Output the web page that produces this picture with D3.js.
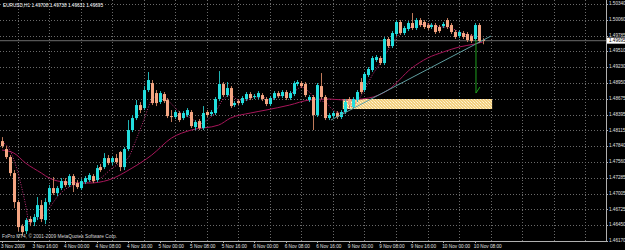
<!DOCTYPE html>
<html><head><meta charset="utf-8">
<script src="https://cdn.jsdelivr.net/npm/d3@7/dist/d3.min.js"></script>
<style>html,body{margin:0;padding:0;background:#000;overflow:hidden}svg{display:block}</style>
</head><body>
<svg id="c" width="625" height="250"></svg>
<script>
const symbolTitle = "EURUSD,H1";
const lastBar = ["1.49708","1.49738","1.49631","1.49695"];
const copyright = "FxPro MT4, \u00A9 2001-2009 MetaQuotes Software Corp.";
const timeLabels = ["3 Nov 2009","3 Nov 16:00","4 Nov 00:00","4 Nov 08:00","4 Nov 16:00","5 Nov 00:00","5 Nov 08:00","5 Nov 16:00","6 Nov 00:00","6 Nov 08:00","6 Nov 16:00","9 Nov 00:00","9 Nov 08:00","9 Nov 16:00","10 Nov 00:00","10 Nov 08:00"];
const priceTicks = ["1.50340","1.50060","1.49785","1.49510","1.49230","1.48950","1.48675","1.48395","1.48115","1.47840","1.47560","1.47285","1.47005","1.46725","1.46450","1.46170"];
const currentPrice = 1.49695;

const open = [1.47928,1.47788,1.47647,1.47365,1.46855,1.46432,1.46344,1.46556,1.46503,1.46591,
1.46802,1.46538,1.46855,1.47101,1.47013,1.47101,1.47224,1.47154,1.47312,1.47189,
1.47101,1.47207,1.47242,1.47312,1.47242,1.47471,1.47471,1.47629,1.47559,1.47629,
1.47735,1.47471,1.47788,1.48122,1.48333,1.48562,1.48509,1.48826,1.48949,1.48773,
1.48615,1.48756,1.48650,1.48368,1.48351,1.48421,1.48333,1.48386,1.48439,1.48175,
1.48280,1.48157,1.48439,1.48404,1.48421,1.48668,1.48932,1.48738,1.48861,1.48562,
1.48632,1.48597,1.48668,1.48756,1.48703,1.48703,1.48738,1.48668,1.48580,1.48685,
1.48773,1.48720,1.48791,1.48685,1.48756,1.48932,1.48949,1.48932,1.48650,1.48703,
1.48386,1.48896,1.48703,1.48333,1.48368,1.48421,1.48351,1.48439,1.48668,1.48527,
1.48650,1.48967,1.48826,1.49090,1.49178,1.49354,1.49389,1.49301,1.49724,1.49600,
1.49812,1.50023,1.49829,1.49900,1.50005,1.49917,1.50058,1.50023,1.49970,1.49935,
1.49970,1.49935,1.49952,1.50058,1.49970,1.49847,1.49776,1.49829,1.49812,1.49776,
1.49724,1.49970,1.49708];
const high = [1.47998,1.47840,1.47682,1.47418,1.46890,1.46468,1.46573,1.46608,1.46644,1.46943,
1.46890,1.46925,1.47154,1.47295,1.47136,1.47277,1.47277,1.47348,1.47348,1.47242,
1.47260,1.47312,1.47365,1.47348,1.47506,1.47524,1.47717,1.47682,1.47664,1.47700,
1.47752,1.47823,1.48298,1.48386,1.48650,1.48615,1.48896,1.49143,1.49002,1.48826,
1.48808,1.48791,1.48685,1.48474,1.48474,1.48456,1.48456,1.48509,1.48474,1.48298,
1.48316,1.48544,1.48474,1.48474,1.48703,1.49160,1.48967,1.48967,1.48896,1.48632,
1.48668,1.48720,1.48791,1.48791,1.48756,1.48808,1.48773,1.48703,1.48720,1.48808,
1.48808,1.48826,1.48826,1.48808,1.48984,1.49002,1.48984,1.48967,1.48738,1.48738,
1.48949,1.49125,1.48738,1.48421,1.48456,1.48456,1.48474,1.48668,1.48703,1.48703,
1.48826,1.49037,1.49143,1.49231,1.49424,1.49442,1.49424,1.49759,1.49759,1.49864,
1.50058,1.50058,1.49952,1.50040,1.50181,1.50093,1.50093,1.50058,1.50005,1.50005,
1.50005,1.49970,1.50023,1.50093,1.50005,1.49882,1.49882,1.49864,1.49847,1.49812,
1.50005,1.50005,1.49738];
const low = [1.47805,1.47612,1.47312,1.46749,1.46344,1.46256,1.46292,1.46432,1.46432,1.46538,
1.46503,1.46468,1.46820,1.46978,1.46960,1.47066,1.47119,1.47119,1.47031,1.47084,
1.47066,1.47172,1.47207,1.47189,1.47207,1.47383,1.47436,1.47506,1.47506,1.47524,
1.47400,1.47418,1.47752,1.48087,1.48298,1.48421,1.48474,1.48791,1.48562,1.48544,
1.48580,1.48597,1.48333,1.48263,1.48316,1.48263,1.48298,1.48351,1.48157,1.48122,
1.48122,1.48122,1.48351,1.48368,1.48386,1.48632,1.48703,1.48703,1.48509,1.48527,
1.48562,1.48562,1.48632,1.48650,1.48668,1.48668,1.48632,1.48544,1.48544,1.48650,
1.48685,1.48685,1.48650,1.48650,1.48720,1.48896,1.48861,1.48703,1.48615,1.48122,
1.48351,1.48668,1.48298,1.48298,1.48333,1.48316,1.48316,1.48404,1.48527,1.48492,
1.48615,1.48756,1.48791,1.49055,1.49143,1.49319,1.49266,1.49266,1.49565,1.49565,
1.49776,1.49794,1.49794,1.49864,1.49882,1.49882,1.49935,1.49900,1.49882,1.49900,
1.49812,1.49829,1.49917,1.49900,1.49812,1.49724,1.49741,1.49724,1.49671,1.49653,
1.49688,1.49653,1.49631];
const close = [1.47840,1.47647,1.47365,1.46855,1.46415,1.46327,1.46538,1.46503,1.46591,1.46802,
1.46556,1.46855,1.47101,1.47013,1.47101,1.47224,1.47154,1.47312,1.47154,1.47119,
1.47224,1.47277,1.47330,1.47224,1.47453,1.47418,1.47629,1.47541,1.47629,1.47559,
1.47471,1.47788,1.48122,1.48333,1.48562,1.48474,1.48826,1.49002,1.48597,1.48597,
1.48773,1.48632,1.48368,1.48351,1.48439,1.48298,1.48421,1.48474,1.48192,1.48263,
1.48157,1.48421,1.48386,1.48439,1.48668,1.48932,1.48738,1.48861,1.48544,1.48597,
1.48597,1.48685,1.48756,1.48685,1.48720,1.48773,1.48668,1.48580,1.48685,1.48773,
1.48720,1.48791,1.48685,1.48773,1.48949,1.48967,1.48896,1.48738,1.48703,1.48386,
1.48914,1.48703,1.48333,1.48386,1.48421,1.48351,1.48439,1.48615,1.48562,1.48668,
1.48791,1.48791,1.49108,1.49196,1.49389,1.49407,1.49301,1.49724,1.49600,1.49829,
1.50023,1.49829,1.49917,1.50005,1.49917,1.50058,1.49970,1.49935,1.49917,1.49970,
1.49847,1.49864,1.49988,1.49935,1.49847,1.49759,1.49847,1.49759,1.49706,1.49688,
1.49970,1.49688,1.49695];

const slowMaIdx = [0,3,6,10,12,16,22,27,33,38,43,48,55,58,63,67,73,78,83,87,93,98,104,108,112,116,120,122];
const slowMaVal = [1.47770,1.47717,1.47541,1.47365,1.47277,1.47207,1.47189,1.47242,1.47453,1.47682,1.47981,1.48122,1.48210,1.48333,1.48421,1.48474,1.48562,1.48650,1.48668,1.48650,1.48685,1.48826,1.49213,1.49389,1.49495,1.49583,1.49636,1.49671];
const fastMaIdx = [0,2,4,6,7,8,10,12,14,17,20,22,25,28,30,32,34,36,38,40,42,44,46,48,50,52,54,56,58,60,62,64,66,68,70,72,74,76,78,80,82,84,86,88,90,92,94,96,98,100,102,104,106,108,110,112,114,116,118,120,122];
const fastMaVal = [1.47911,1.47770,1.47383,1.46802,1.46468,1.46538,1.46591,1.46749,1.46943,1.47119,1.47172,1.47207,1.47277,1.47453,1.47541,1.47629,1.47946,1.48298,1.48650,1.48738,1.48650,1.48509,1.48386,1.48333,1.48228,1.48298,1.48421,1.48650,1.48738,1.48650,1.48650,1.48703,1.48703,1.48650,1.48720,1.48738,1.48791,1.48879,1.48791,1.48650,1.48615,1.48474,1.48421,1.48509,1.48615,1.48826,1.49090,1.49301,1.49530,1.49741,1.49882,1.49935,1.49970,1.49988,1.49952,1.49935,1.49917,1.49847,1.49794,1.49776,1.49759];

const trendLine = {i0: 83.5, p0: 1.48298, i1: 124.1, p1: 1.49776};
const zone = {i0: 86.5, i1: 124.4, pTop: 1.48668, pBot: 1.48492};
const arrow = {i: 120.3, pFrom: 1.49706, pTo: 1.48773, iHead: 121.3, pHead: 1.48879};

const W = 625, H = 250, plotR = 606, plotB = 241;
const svg = d3.select("#c");
svg.append("rect").attr("width", W).attr("height", H).attr("fill", "#000");

const x = d3.scaleLinear().domain([0, 153]).range([2, 2 + 3.94 * 153]);
const y = d3.scaleLinear().domain([1.46170, 1.50340]).range([plotB, 4]);

const defs = svg.append("defs");
const pat = defs.append("pattern").attr("id", "dither").attr("patternUnits", "userSpaceOnUse").attr("width", 3).attr("height", 3);
pat.append("rect").attr("width", 3).attr("height", 3).attr("fill", "#f3cf80");
pat.append("rect").attr("width", 1).attr("height", 1).attr("fill", "#fff6dc");
pat.append("rect").attr("x", 1).attr("y", 1).attr("width", 1).attr("height", 1).attr("fill", "#fbe6b0");
pat.append("rect").attr("x", 2).attr("y", 2).attr("width", 1).attr("height", 1).attr("fill", "#fff0c8");

const grid = svg.append("g").attr("stroke", "#6a6a6a").attr("stroke-width", 1).attr("stroke-dasharray", "1,2");
priceTicks.slice(0, -1).forEach(t => {
  const yy = Math.round(y(+t)) + 0.5;
  grid.append("line").attr("x1", 0).attr("x2", plotR).attr("y1", yy).attr("y2", yy);
});
d3.range(4, 154, 8).forEach(i => {
  const xx = Math.round(x(i)) + 0.5;
  if (xx < plotR) grid.append("line").attr("x1", xx).attr("x2", xx).attr("y1", 0).attr("y2", plotB);
});

// current price line
svg.append("line").attr("x1", 0).attr("x2", plotR).attr("y1", y(currentPrice)).attr("y2", y(currentPrice))
  .attr("stroke", "#555555").attr("stroke-width", 1.2);

// zone rectangle
svg.append("rect").attr("x", x(zone.i0)).attr("y", y(zone.pTop))
  .attr("width", x(zone.i1) - x(zone.i0)).attr("height", y(zone.pBot) - y(zone.pTop))
  .attr("fill", "url(#dither)");

// slow MA
const lineGen = d3.line().x(d => x(d[0])).y(d => y(d[1])).curve(d3.curveMonotoneX);
svg.append("path").datum(slowMaIdx.map((v, k) => [v, slowMaVal[k]])).attr("d", lineGen)
  .attr("fill", "none").attr("stroke", "#a8165a").attr("stroke-width", 1);
// fast MA dotted
svg.append("path").datum(fastMaIdx.map((v, k) => [v, fastMaVal[k]])).attr("d", lineGen)
  .attr("fill", "none").attr("stroke", "#c0307a").attr("stroke-width", 1).attr("stroke-dasharray", "1,1.5");

// candles
const bars = d3.range(open.length).map(i => ({i, o: open[i], h: high[i], l: low[i], c: close[i]}));
const cg = svg.append("g");
bars.forEach(b => {
  const up = b.c >= b.o;
  const cx = Math.round(x(b.i));
  cg.append("line").attr("x1", cx + 0.5).attr("x2", cx + 0.5).attr("y1", y(b.h)).attr("y2", y(b.l))
    .attr("stroke", up ? "#1fb5b5" : "#c07a5a").attr("stroke-width", 1);
  const top = y(Math.max(b.o, b.c)), bot = y(Math.min(b.o, b.c));
  cg.append("rect").attr("x", cx - 1).attr("y", top).attr("width", 3).attr("height", Math.max(1, bot - top))
    .attr("fill", up ? "#22dede" : "#f4a582");
});

// trend line
svg.append("line").attr("x1", x(trendLine.i0)).attr("y1", y(trendLine.p0)).attr("x2", x(trendLine.i1)).attr("y2", y(trendLine.p1))
  .attr("stroke", "#5f9ea0").attr("stroke-width", 1);

// arrow
svg.append("line").attr("x1", x(arrow.i)).attr("x2", x(arrow.i)).attr("y1", y(arrow.pFrom)).attr("y2", y(arrow.pTo))
  .attr("stroke", "#1fa01f").attr("stroke-width", 1);
svg.append("line").attr("x1", x(arrow.i)).attr("y1", y(arrow.pTo)).attr("x2", x(arrow.iHead)).attr("y2", y(arrow.pHead))
  .attr("stroke", "#1fa01f").attr("stroke-width", 1);

// axes frame
svg.append("line").attr("x1", plotR + 0.5).attr("x2", plotR + 0.5).attr("y1", 0).attr("y2", plotB + 1).attr("stroke", "#b0b0b0");
svg.append("line").attr("x1", 0).attr("x2", plotR + 1).attr("y1", plotB + 0.5).attr("y2", plotB + 0.5).attr("stroke", "#b0b0b0");

const font = "'Liberation Sans', Arial, sans-serif";
const pg = svg.append("g").attr("font-family", font).attr("font-size", 4.6).attr("fill", "#e0e0e0");
priceTicks.forEach(t => {
  const yy = y(+t);
  svg.append("line").attr("x1", plotR).attr("x2", plotR + 2).attr("y1", Math.round(yy) + 0.5).attr("y2", Math.round(yy) + 0.5).attr("stroke", "#b0b0b0");
  pg.append("text").attr("x", 609).attr("y", yy).attr("dominant-baseline", "middle").text(t);
});
// current price box
const cy = y(currentPrice);
svg.append("rect").attr("x", 607).attr("y", cy - 3).attr("width", 18).attr("height", 6).attr("fill", "#ffffff");
svg.append("text").attr("x", 609).attr("y", cy).attr("dominant-baseline", "middle").attr("font-family", font)
  .attr("font-size", 4.6).attr("fill", "#000").text(lastBar[3]);

const tg = svg.append("g").attr("font-family", font).attr("font-size", 4.7).attr("fill", "#e0e0e0");
timeLabels.forEach((t, k) => {
  const xx = x(k * 8) - 1;
  tg.append("text").attr("x", xx).attr("y", 246.5).attr("dominant-baseline", "middle").text(t);
  svg.append("line").attr("x1", Math.round(x(k * 8)) + 0.5).attr("x2", Math.round(x(k * 8)) + 0.5).attr("y1", plotB).attr("y2", plotB + 2).attr("stroke", "#b0b0b0");
});

svg.append("text").attr("x", 3).attr("y", 5.5).attr("dominant-baseline", "middle").attr("font-family", font)
  .attr("font-size", 4.7).attr("fill", "#ffffff").text(symbolTitle + "  " + lastBar.join(" "));
svg.append("text").attr("x", 2).attr("y", 237).attr("dominant-baseline", "middle").attr("font-family", font)
  .attr("font-size", 4.8).attr("fill", "#d8d8d8").text(copyright);
</script>
</body></html>
